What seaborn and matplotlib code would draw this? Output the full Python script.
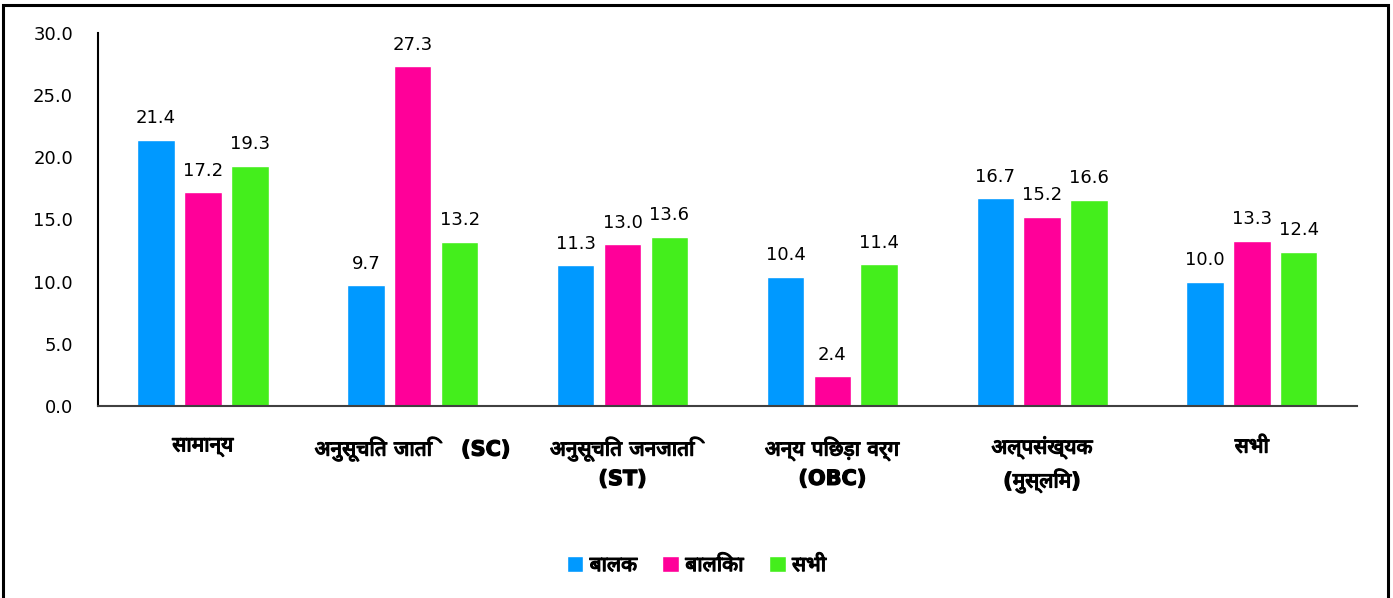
import pandas as pd
import seaborn as sns
import matplotlib.pyplot as plt
from matplotlib import font_manager, patheffects
from matplotlib.ft2font import FT2Font
from matplotlib.patches import Rectangle

categories = ['सामान्य', 'अनुसूचित जाति    (SC)', 'अनुसूचित जनजाति\n(ST)',
              'अन्य पिछड़ा वर्ग\n(OBC)', 'अल्पसंख्यक\n(मुस्लिम)', 'सभी']
series = ['बालक', 'बालिका', 'सभी']
boys = [21.4, 9.7, 11.3, 10.4, 16.7, 10.0]
girls = [17.2, 27.3, 13.0, 2.4, 15.2, 13.3]
total = [19.3, 13.2, 13.6, 11.4, 16.6, 12.4]
yticks = [0, 5, 10, 15, 20, 25, 30]
colors = ['#0099ff', '#ff0099', '#44ee1c']


def find_devanagari_font():
    # collect installed fonts with Devanagari glyphs, prefer sans (non-mono) ones
    names = set()
    for f in font_manager.fontManager.ttflist:
        try:
            if 0x0915 in FT2Font(f.fname).get_charmap():
                names.add(f.name)
        except Exception:
            continue
    if not names:
        return None
    preferred = ['Noto Sans Devanagari', 'Lohit Devanagari', 'FreeSans', 'Mukta', 'Gargi']
    for p in preferred:
        if p in names:
            return p
    non_mono = sorted(n for n in names if 'Mono' not in n)
    return non_mono[0] if non_mono else sorted(names)[0]


df = pd.DataFrame({
    'category': categories * 3,
    'series': [s for s in series for _ in categories],
    'value': boys + girls + total,
})

sns.set_style('white')
deva = find_devanagari_font()
families = ['DejaVu Sans'] + ([deva] if deva else [])
plt.rcParams['font.family'] = families
plt.rcParams['text.color'] = 'black'
plt.rcParams['xtick.color'] = 'black'
plt.rcParams['ytick.color'] = 'black'

# devanagari font has no bold face, so thicken the strokes a little
boldish = [patheffects.withStroke(linewidth=0.9, foreground='black')]

fig = plt.figure(figsize=(13.93, 5.98), dpi=100)
ax = fig.add_axes([0.0704, 0.321, 0.9036, 0.624])

sns.barplot(data=df, x='category', y='value', hue='series', order=categories,
            hue_order=series, palette=colors, width=0.67, gap=0.2,
            saturation=1, ax=ax)

for cont in ax.containers:
    ax.bar_label(cont, fmt='%.1f', padding=9, fontsize=13, color='black')

ax.set_ylim(0, 30)
ax.set_xlim(-0.5, 5.5)
ax.set_yticks(yticks)
ax.set_yticklabels([f'{v:.1f}' for v in yticks], fontsize=13)
ax.tick_params(axis='y', pad=18, length=0)
ax.tick_params(axis='x', pad=22, length=0)
for lab in ax.get_xticklabels():
    lab.set_fontsize(15)
    lab.set_fontweight('bold')
    lab.set_linespacing(1.5)
    lab.set_path_effects(boldish)
ax.set_xlabel('')
ax.set_ylabel('')

for side in ['top', 'right']:
    ax.spines[side].set_visible(False)
ax.spines['left'].set_color('black')
ax.spines['left'].set_linewidth(1.5)
ax.spines['bottom'].set_color('#404040')
ax.spines['bottom'].set_linewidth(1.5)

leg = ax.legend(loc='center', bbox_to_anchor=(0.5, 0.055), bbox_transform=fig.transFigure,
                ncol=3, frameon=False, handlelength=0.8, handleheight=0.8,
                handletextpad=0.3, columnspacing=1.2,
                prop={'size': 15, 'weight': 'bold', 'family': families})
for t in leg.get_texts():
    t.set_path_effects(boldish)

fig.patches.append(Rectangle((0.002, -0.01), 0.9945, 1.0015, transform=fig.transFigure,
                             fill=False, edgecolor='black', linewidth=2.2))

fig.savefig('out.png', dpi=100)
